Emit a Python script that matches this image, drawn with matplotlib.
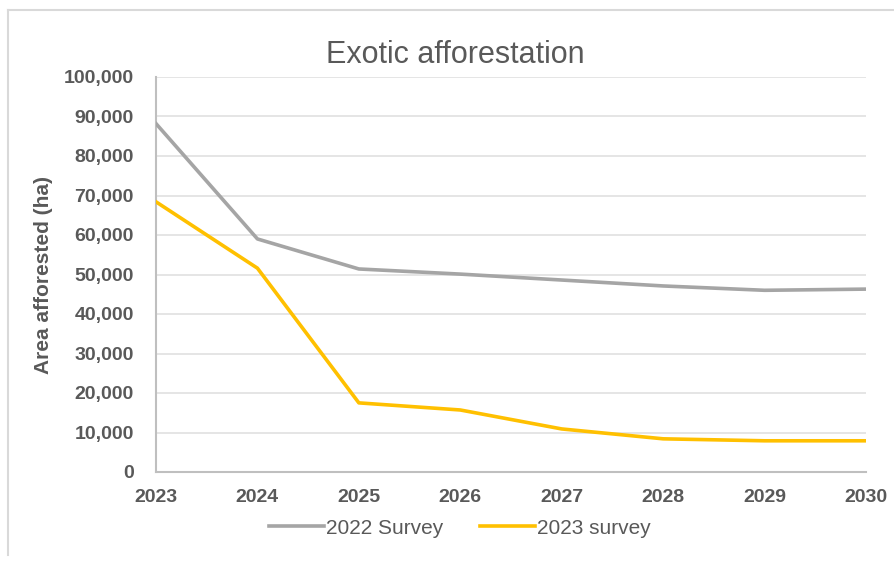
import matplotlib
matplotlib.use("Agg")
import matplotlib.pyplot as plt
from matplotlib import font_manager
from matplotlib.ticker import FuncFormatter
from matplotlib.lines import Line2D

names = {f.name for f in font_manager.fontManager.ttflist}
FONT = "Liberation Sans Narrow" if "Liberation Sans Narrow" in names else "Liberation Sans"
plt.rcParams["font.family"] = [FONT, "DejaVu Sans"]

years = [2023, 2024, 2025, 2026, 2027, 2028, 2029, 2030]
survey_2022 = [88200, 59000, 51400, 50100, 48600, 47100, 46000, 46300]
survey_2023 = [68400, 51600, 17500, 15700, 10900, 8400, 7900, 7900]
series_labels = ["2022 Survey", "2023 survey"]
title = "Exotic afforestation"
ylabel = "Area afforested (ha)"

GRAY = "#A5A5A5"
GOLD = "#FFC000"
TXT = "#595959"

fig = plt.figure(figsize=(8.95, 5.61), dpi=100)
ax = fig.add_axes([156/895, 1-472/561, (866-156)/895, (472-77)/561])

ax.plot(years, survey_2022, color=GRAY, lw=2.6, solid_joinstyle="round", label=series_labels[0], zorder=3)
ax.plot(years, survey_2023, color=GOLD, lw=2.6, solid_joinstyle="round", label=series_labels[1], zorder=3)

ax.set_xlim(2023, 2030)
ax.set_ylim(0, 100000)
ax.set_xticks(years)
ax.set_yticks(range(0, 100001, 10000))
ax.yaxis.set_major_formatter(FuncFormatter(lambda v, p: f"{int(v):,}"))
ax.grid(axis="y", color="#E3E3E3", lw=1.3)
ax.set_axisbelow(True)
for s in ["top", "right"]:
    ax.spines[s].set_visible(False)
for s in ["left", "bottom"]:
    ax.spines[s].set_color("#BFBFBF")
    ax.spines[s].set_linewidth(1.5)
ax.tick_params(axis="both", length=0, labelcolor=TXT, labelsize=14)
ax.tick_params(axis="y", pad=16)
ax.tick_params(axis="x", pad=12)
for lab in ax.get_xticklabels() + ax.get_yticklabels():
    lab.set_fontweight("bold")

ax.set_ylabel(ylabel, fontsize=15, fontweight="bold", color=TXT)
ax.yaxis.set_label_coords(-0.145, 0.5)

fig.text(455/895, 1-55/561, title, ha="center", va="center", fontsize=22, color=TXT)

handles = [Line2D([0], [0], color=GRAY, lw=2.6), Line2D([0], [0], color=GOLD, lw=2.6)]
fig.legend(handles, series_labels, loc="center", bbox_to_anchor=(460/895, 1-528/561),
           ncol=2, frameon=False, fontsize=15, labelcolor=TXT, handlelength=2.6,
           handletextpad=0.1, columnspacing=1.8)

# chart border (top and left)
fig.add_artist(Line2D([8/895, 1.0], [1-10/561, 1-10/561], color="#D9D9D9", lw=1.5, transform=fig.transFigure))
fig.add_artist(Line2D([8/895, 8/895], [1-10/561, 1-555/561], color="#D9D9D9", lw=1.5, transform=fig.transFigure))

fig.savefig("out.png", dpi=100)
